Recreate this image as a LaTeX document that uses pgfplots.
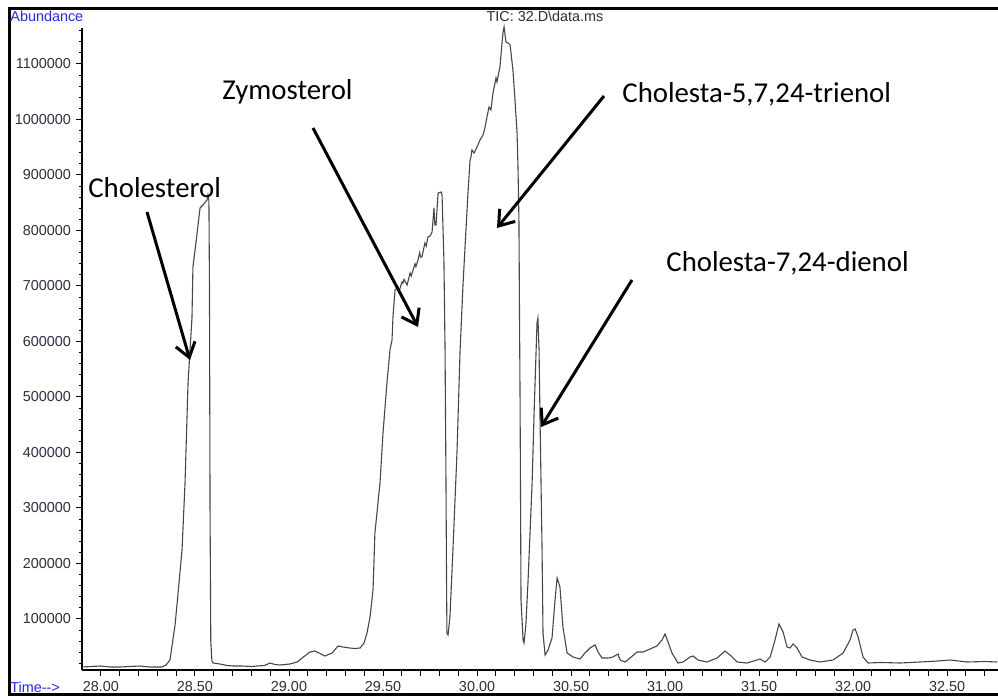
\documentclass[border=0pt]{standalone}
\usepackage{fontspec}
\setmainfont{Liberation Sans}
\newfontfamily\calfont{Carlito}
\usepackage{pgfplots}
\pgfplotsset{compat=1.18}
\usetikzlibrary{arrows.meta}
\definecolor{chemblue}{RGB}{40,40,255}
\definecolor{trace}{RGB}{70,70,70}
\definecolor{ticktxt}{RGB}{45,45,60}

\begin{document}
\begin{tikzpicture}
\path[use as bounding box] (0pt,0pt) rectangle (499pt,348pt);
\begin{axis}[
 at={(41pt,13pt)}, anchor=south west,
 scale only axis, width=458pt, height=321pt,
 xmin=27.899, xmax=32.771, ymin=8108, ymax=1164860,
 axis x line=bottom, axis y line=left,
 axis line style={-, line width=0.6pt, black},
 clip=false,
 tick align=outside,
 major tick length=3pt, minor tick length=1.5pt,
 every tick/.style={black, line width=0.5pt},
 xtick={28,28.5,29,29.5,30,30.5,31,31.5,32,32.5},
 extra x ticks={28.1,28.2,28.3,28.4,28.6,28.7,28.8,28.9,29.1,29.2,29.3,29.4,29.6,29.7,29.8,29.9,30.1,30.2,30.3,30.4,30.6,30.7,30.8,30.9,31.1,31.2,31.3,31.4,31.6,31.7,31.8,31.9,32.1,32.2,32.3,32.4,32.6,32.7},
 extra x tick labels={},
 ytick={100000,200000,300000,400000,500000,600000,700000,800000,900000,1000000,1100000},
 minor ytick={20000,40000,...,1160000},
 scaled y ticks=false, scaled x ticks=false,
 /pgf/number format/assume math mode=true,
 yticklabel style={font=\fontsize{7.2}{8}\selectfont, text=ticktxt, xshift=1pt, /pgf/number format/.cd, fixed, precision=0, 1000 sep={}},
 xticklabel style={font=\fontsize{7.2}{8}\selectfont, text=ticktxt, yshift=1pt, /pgf/number format/.cd, fixed, fixed zerofill, precision=2},
]
\addplot[trace, line width=0.55pt, mark=none] table {
t v
27.899 13500
27.95 14400
27.995 15300
28.05 13500
28.101 13500
28.15 14400
28.207 15300
28.26 13500
28.324 13500
28.346 17100
28.367 26100
28.394 89200
28.410 146800
28.431 224300
28.447 345000
28.463 525200
28.484 643000
28.489 734300
28.505 777600
28.527 840700
28.543 846100
28.564 855100
28.569 864100
28.574 855100
28.577 700000
28.580 300000
28.584 60000
28.590 25000
28.596 20700
28.633 18900
28.67 16200
28.702 15300
28.75 15300
28.80 14400
28.830 15300
28.87 16200
28.899 20700
28.925 18000
28.952 17100
29.005 18900
29.043 22500
29.08 32400
29.112 40500
29.138 42300
29.165 37800
29.191 33300
29.229 38700
29.261 51400
29.287 49500
29.324 47700
29.35 46800
29.378 47700
29.399 56800
29.415 74800
29.431 103600
29.447 152300
29.457 255000
29.484 345000
29.500 435100
29.521 525200
29.537 584700
29.548 602700
29.553 644100
29.564 692800
29.580 698200
29.585 690000
29.601 707200
29.606 705400
29.612 712000
29.628 701800
29.644 723400
29.650 718000
29.660 728800
29.670 740000
29.675 735000
29.686 746800
29.695 760000
29.700 752000
29.707 752200
29.723 777500
29.730 772000
29.739 788300
29.750 790000
29.761 797300
29.771 840600
29.776 809900
29.782 809900
29.793 867600
29.809 869400
29.814 864000
29.824 746800
29.830 584700
29.835 345000
29.838 164900
29.840 74800
29.846 71300
29.856 103600
29.872 224300
29.894 404500
29.910 584700
29.926 705400
29.947 836900
29.952 867600
29.963 927000
29.968 932400
29.973 945000
29.984 939600
30.000 950400
30.016 963000
30.032 972000
30.043 986400
30.053 1004500
30.064 1022500
30.074 1017100
30.085 1047700
30.101 1074800
30.106 1067600
30.122 1094600
30.133 1137800
30.138 1155800
30.144 1166700
30.154 1139600
30.165 1137800
30.176 1134200
30.191 1089200
30.202 1035100
30.213 975600
30.218 914400
30.223 818900
30.226 650000
30.229 494600
30.234 134500
30.245 62200
30.250 56800
30.260 90000
30.271 164900
30.293 345000
30.303 463900
30.319 633300
30.324 642300
30.330 584700
30.335 463900
30.346 224300
30.351 74800
30.362 35100
30.378 44100
30.399 65800
30.415 134200
30.426 173900
30.441 157700
30.457 85600
30.479 38700
30.511 31500
30.548 27900
30.574 38700
30.601 47700
30.628 53200
30.644 40500
30.665 29700
30.697 29700
30.723 31500
30.750 36900
30.761 26100
30.787 22500
30.814 29700
30.851 40500
30.883 40500
30.920 45900
30.957 51400
30.984 62200
31.000 73000
31.016 58600
31.037 38700
31.069 20700
31.096 22500
31.133 31500
31.149 33300
31.176 26100
31.223 22500
31.277 29700
31.319 42300
31.346 35100
31.383 22500
31.436 20700
31.489 26100
31.505 27900
31.532 22500
31.559 31500
31.585 62200
31.606 91000
31.628 76600
31.649 49500
31.665 47700
31.681 55000
31.702 47700
31.729 31500
31.771 26100
31.824 22500
31.894 26100
31.947 38700
31.984 62200
32.000 80200
32.011 82000
32.027 67600
32.053 31500
32.080 20700
32.15 21600
32.250 20700
32.356 22500
32.45 24300
32.516 26100
32.606 22500
32.70 23400
32.766 22500
};
\end{axis}
\begin{scope}[x=0.5pt,y=0.5pt]
% frame
\draw[line width=1.5pt, black] (1010,687.5) -- (9,687.5) -- (9,1.5) -- (1010,1.5);
% header / footer texts
\node[anchor=west, inner sep=0, text=chemblue, font=\fontsize{7.2}{8}\selectfont] at (10,679.5) {Abundance};
\node[anchor=center, inner sep=0, text=ticktxt, font=\fontsize{7.2}{8}\selectfont] at (545,680) {TIC: 32.D\textbackslash data.ms};
\node[anchor=west, inner sep=0, text=chemblue, font=\fontsize{7.2}{8}\selectfont] at (10,8.5) {Time-{}-{}>};
% annotations
\begin{scope}[font=\calfont\fontsize{14.4}{16}\selectfont]
\node[anchor=base west, inner sep=0] at (88,498) {Cholesterol};
\node[anchor=base west, inner sep=0] at (222,596) {Zymosterol};
\node[anchor=base west, inner sep=0] at (622,593) {Cholesta-5,7,24-trienol};
\node[anchor=base west, inner sep=0] at (666,424) {Cholesta-7,24-dienol};
\end{scope}
\begin{scope}[line width=1.5pt, -{Straight Barb[length=7pt,width=10pt]}]
\draw (147,484) -- (190,336);
\draw (313,568) -- (418,369);
\draw (604,600) -- (497,468);
\draw (632,416) -- (541,269);
\end{scope}
\end{scope}
\end{tikzpicture}
\end{document}
